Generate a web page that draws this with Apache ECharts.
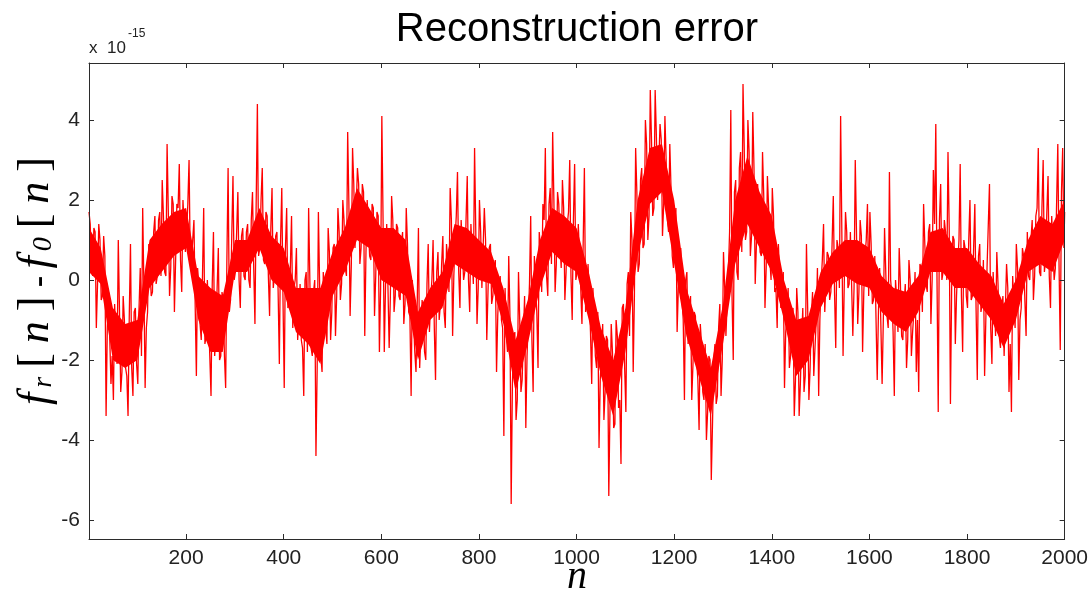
<!DOCTYPE html>
<html>
<head>
<meta charset="utf-8">
<script src="https://cdn.jsdelivr.net/npm/echarts@6/dist/echarts.min.js"></script>
<style>
html,body{margin:0;padding:0;background:#fff;}
#chart{width:1091px;height:594px;}
</style>
</head>
<body>
<div id="chart"></div>
<script>
// Outer samples at n = 1, 6, 11, ... (step 5); inner samples at n = 3.5, 8.5, ...; final sample n = 2000
const nStart = 1;
const nStep = 5;
const nInnerOffset = 2.5;
const nLast = 2000;
// Reconstruction error (units of 1e-15): samples that reach the spikes
const errValues = [
  // n 1-46
  1.7, 0.3, 1.3, -1.2, 1.4, -0.5, 1.1, -3.4, -0.3, -2.6,
  // n 51-96
  -3.0, -0.6, 1.0, -2.8, -0.4, -2.2, -3.4, 0.9, -2.9, -0.7,
  // n 101-146
  -2.6, 0.3, 1.8, -2.7, -0.8, 0.9, -0.3, 1.6, 0.1, 1.7,
  // n 151-196
  2.5, 0.2, 3.4, -0.4, 2.1, -0.8, 1.9, 2.9, -0.3, 2.0,
  // n 201-246
  1.2, 3.0, 0.5, 1.5, -2.4, -0.1, -1.5, 1.8, -1.4, 0.0,
  // n 251-296
  -2.9, 1.2, -1.3, 0.8, -1.9, -0.5, -2.7, 2.8, -0.5, 2.6,
  // n 301-346
  0.2, 2.2, -0.7, 1.3, 0.0, 1.4, -0.2, 2.2, -1.1, 4.4,
  // n 351-396
  0.8, 2.8, 0.4, 1.6, -0.9, 2.3, 0.1, 1.2, -2.1, 2.3,
  // n 401-446
  -2.7, 1.8, -0.6, 1.6, -0.2, 0.8, -1.0, -1.5, -2.9, 0.2,
  // n 451-496
  1.8, -1.7, -0.3, -4.4, 1.7, -1.9, 0.2, -1.2, 1.3, -1.5,
  // n 501-546
  0.8, -1.4, 1.8, -0.5, 2.0, 0.3, 3.7, -0.9, 3.3, 0.8,
  // n 551-596
  2.8, 0.4, 2.4, -1.4, 2.0, 0.6, 1.9, -0.9, 1.7, -1.8,
  // n 601-646
  4.1, -1.8, 1.4, -1.7, 2.1, -0.8, 1.4, -0.4, 0.9, -1.1,
  // n 651-696
  1.8, -0.8, -2.9, -1.0, -2.3, 1.3, -2.2, -0.8, -2.0, 0.9,
  // n 701-746
  -0.5, 1.0, -2.5, 0.7, -0.6, 1.1, -1.2, 0.5, 2.3, -1.4,
  // n 751-796
  1.0, 2.7, -0.7, 1.5, 0.2, 2.6, -0.8, 1.4, 3.3, -1.1,
  // n 801-846
  2.0, -0.2, 1.8, -1.5, 0.8, -0.6, 0.3, -2.3, -0.1, -1.0,
  // n 851-896
  -3.9, -1.4, 0.6, -5.6, -1.5, -3.5, 0.2, -2.8, -1.4, -3.7,
  // n 901-946
  -1.0, 1.6, -2.8, -0.2, -2.2, 0.8, 1.9, 3.3, -0.4, 2.3,
  // n 951-996
  3.7, -0.3, 2.2, 0.9, 2.5, -0.5, 1.4, 3.0, -1.0, 2.9,
  // n 1001-1046
  0.2, 1.4, -1.1, 2.8, -0.6, 0.4, -2.6, -1.0, -2.2, -4.2,
  // n 1051-1096
  -1.8, -3.5, -1.4, -5.4, -1.1, -3.7, -1.0, -3.2, -4.6, -0.6,
  // n 1101-1146
  -3.3, 0.2, 1.7, -2.3, 3.3, 0.2, 2.5, 0.8, 4.0, 1.0,
  // n 1151-1196
  4.75, 1.6, 4.75, 2.0, 3.9, 1.1, 4.1, 1.5, 3.4, 0.6,
  // n 1201-1246
  1.4, -1.3, 0.6, -0.5, -3.0, 0.2, -1.2, -3.0, -0.8, -2.0,
  // n 1251-1296
  -3.75, -1.6, -3.0, -4.0, -1.9, -5.0, -2.0, -3.1, -1.2, -2.9,
  // n 1301-1346
  0.7, -1.4, 0.2, 4.25, -2.0, 2.5, 0.0, 3.2, 4.9, 1.0,
  // n 1351-1396
  4.0, 0.6, 4.2, -0.1, 2.4, 0.7, 3.2, -0.7, 2.6, 0.5,
  // n 1401-1446
  2.3, -0.3, -1.2, 0.9, -0.7, -2.7, -0.9, -2.2, -0.8, -3.4,
  // n 1451-1496
  -0.2, -3.4, -1.5, -2.8, 0.9, -3.0, -0.9, -2.4, -1.0, -2.9,
  // n 1501-1546
  -0.1, 1.4, -0.8, 0.6, -0.3, 2.1, -1.7, 0.8, 4.1, -1.9,
  // n 1551-1596
  1.7, -0.2, 1.2, -1.4, 3.0, -1.1, 1.5, -1.8, 0.6, 1.9,
  // n 1601-1646
  1.7, -0.6, 0.6, -2.5, 0.3, -2.6, 1.3, -0.9, 2.7, -0.4,
  // n 1651-1696
  -2.9, -0.5, 0.8, -1.4, -0.6, -2.2, 0.5, -1.9, -0.8, -2.3,
  // n 1701-1746
  -2.8, 0.3, 1.9, -0.1, 1.2, -1.1, 2.75, 3.9, -3.3, 2.4,
  // n 1751-1796
  0.2, 1.2, 3.2, -3.1, 1.1, -1.6, 0.4, 2.9, -1.8, 0.8,
  // n 1801-1846
  -0.7, 2.0, -0.4, 1.9, -2.5, 0.9, -0.6, -2.4, 0.3, 2.4,
  // n 1851-1896
  -2.1, -0.6, 0.7, -1.4, -0.8, -1.9, 0.4, -2.8, -3.3, -0.6,
  // n 1901-1946
  0.9, -2.5, -0.7, 0.6, -1.4, 0.1, 1.0, -0.5, 1.6, 3.3,
  // n 1951-1996
  0.1, 3.0, 0.5, 2.6, -0.7, 1.6, 0.3, 3.4, -1.75, 3.3
];
const coreValues = [
  1.4, 0.1, 1.2, -0.1, 1.0, -0.4, 0.6, -1.2, -0.3, -1.9,
  -0.6, -2.1, -0.8, -2.3, -1.0, -2.4, -0.9, -2.2, -0.8, -2.1,
  -0.7, -1.9, -0.2, -1.2, 0.9, -0.4, 1.2, -0.1, 1.5, 0.1,
  1.6, 0.1, 1.7, 0.3, 1.9, 0.5, 1.8, 0.5, 2.0, 0.7,
  1.9, 0.4, 1.0, -0.6, 0.3, -1.1, 0.1, -1.6, 0.0, -1.9,
  -0.1, -1.9, -0.2, -2.0, -0.3, -1.9, 0.5, -0.8, 1.1, 0.0,
  1.2, 0.0, 1.1, 0.1, 1.2, 0.0, 1.5, 0.3, 1.9, 0.6,
  2.0, 0.5, 1.7, 0.1, 1.3, -0.2, 1.1, -0.3, 1.0, -0.5,
  0.8, -0.7, 0.3, -1.2, 0.0, -1.5, -0.1, -1.7, 0.0, -1.8,
  0.0, -1.9, 0.0, -2.2, -0.1, -2.3, 0.2, -1.6, 0.7, -0.8,
  0.9, -0.4, 1.2, -0.1, 1.5, 0.1, 1.9, 0.4, 2.4, 0.8,
  2.4, 0.8, 2.2, 0.7, 2.0, 0.5, 1.8, 0.1, 1.6, -0.2,
  1.5, -0.2, 1.4, -0.4, 1.5, -0.4, 1.3, -0.5, 1.2, -0.6,
  0.9, -0.9, 0.0, -1.8, -0.6, -2.2, -0.5, -1.8, -0.1, -1.3,
  0.0, -1.2, 0.2, -1.0, 0.4, -0.8, 0.9, -0.3, 1.5, 0.1,
  1.6, 0.2, 1.5, 0.0, 1.5, 0.0, 1.4, -0.1, 1.2, -0.2,
  1.2, -0.2, 1.0, -0.3, 0.9, -0.4, 0.5, -0.9, 0.1, -1.2,
  -0.2, -1.8, -0.9, -2.6, -1.3, -3.0, -1.0, -2.5, -0.4, -1.9,
  -0.1, -1.5, 0.6, -0.8, 1.2, -0.3, 1.5, 0.1, 1.9, 0.4,
  2.0, 0.4, 1.9, 0.3, 1.8, 0.2, 1.7, 0.1, 1.5, 0.0,
  1.4, -0.2, 0.9, -0.8, 0.4, -1.3, -0.2, -1.9, -0.8, -2.5,
  -1.1, -2.8, -1.5, -3.2, -1.8, -3.6, -1.4, -3.0, -0.7, -2.2,
  -0.1, -1.4, 1.0, -0.4, 2.2, 0.4, 2.8, 0.9, 3.4, 1.6,
  3.5, 1.8, 3.6, 2.0, 3.5, 1.9, 3.0, 1.2, 2.3, 0.3,
  1.8, -0.2, 0.8, -1.0, 0.0, -1.6, -0.4, -2.1, -0.9, -2.5,
  -1.1, -2.8, -1.6, -3.3, -2.0, -3.6, -1.6, -2.9, -0.6, -2.0,
  -0.2, -1.4, 1.2, -0.4, 2.2, 0.2, 2.8, 0.7, 3.3, 1.2,
  3.2, 1.1, 2.8, 0.9, 2.4, 0.6, 2.1, 0.3, 1.8, 0.0,
  1.6, -0.2, 0.9, -0.7, 0.2, -1.3, -0.2, -1.9, -0.7, -2.5,
  -0.8, -2.6, -0.7, -2.4, -0.7, -2.2, -0.3, -1.7, 0.3, -1.0,
  0.5, -0.8, 0.7, -0.5, 0.9, -0.3, 1.0, -0.2, 1.2, -0.1,
  1.2, -0.1, 1.2, -0.2, 1.2, -0.3, 1.1, -0.3, 1.0, -0.4,
  0.9, -0.5, 0.6, -0.8, 0.3, -1.0, 0.2, -1.2, 0.0, -1.3,
  0.0, -1.3, -0.1, -1.5, -0.1, -1.5, 0.0, -1.3, 0.2, -1.0,
  0.4, -0.8, 0.9, -0.3, 1.4, 0.0, 1.4, 0.0, 1.5, 0.0,
  1.5, 0.0, 1.3, -0.2, 1.0, -0.4, 1.0, -0.4, 1.0, -0.4,
  1.0, -0.5, 0.8, -0.7, 0.6, -0.8, 0.5, -1.0, 0.3, -1.2,
  0.2, -1.4, -0.1, -1.7, -0.4, -1.9, -0.2, -1.6, 0.1, -1.2,
  0.3, -1.0, 0.8, -0.5, 1.2, 0.0, 1.5, 0.1, 1.8, 0.2,
  1.8, 0.2, 1.7, 0.1, 1.6, 0.0, 1.9, 0.4, 2.2, 0.8
];
const lastValue = 1.7;
// Solid core of the trace (narrow band where samples overlap), every 25 n from n = 0
const bandStep = 25;
const bandLow = [
  0.2, -0.1, -2.0, -2.2, -2.0, -0.2, 0.2, 0.6, 0.8, -1.0, -1.8, -1.8, 0.2, 0.2, 0.8, 0.0, -0.3,
  -1.3, -1.6, -2.1, -0.4, 0.2, 1.0, 0.8, 0.0, -0.2, -0.4, -2.0, -1.0, -0.7, 0.4, 0.2, 0.0,
  -0.1, -1.1, -2.8, -1.6, -0.2, 0.7, 0.4, 0.2, -1.0, -2.4, -3.4, -1.8, 0.6, 1.9, 2.2, 0.4,
  -1.4, -2.4, -3.4, -1.6, 0.4, 1.4, 0.8, 0.2, -1.0, -2.4, -2.0, -0.7, -0.1, 0.1, -0.1, -0.2,
  -0.8, -1.1, -1.3, -0.8, 0.2, 0.2, -0.2, -0.2, -0.6, -1.0, -1.7, -1.0, 0.2, 0.4, 0.2, 1.0
];
const bandHigh = [
  1.3, 0.8, -0.7, -1.1, -1.0, 1.0, 1.4, 1.7, 1.8, 0.1, -0.2, -0.4, 1.0, 1.0, 1.8, 1.1, 0.8,
  -0.2, -0.2, -0.2, 0.7, 1.3, 2.3, 1.8, 1.3, 1.3, 1.0, -0.8, -0.2, 0.2, 1.4, 1.3, 1.0,
  0.7, -0.2, -1.5, -0.5, 1.0, 1.8, 1.6, 1.3, 0.2, -1.2, -2.0, -0.7, 2.0, 3.3, 3.4, 2.0,
  -0.2, -1.2, -2.2, -0.6, 2.0, 3.1, 2.2, 1.6, 0.0, -1.0, -0.9, 0.2, 0.7, 1.0, 1.0, 0.8,
  0.1, -0.2, -0.3, 0.1, 1.2, 1.3, 0.8, 0.8, 0.4, 0.1, -0.6, 0.0, 1.0, 1.6, 1.4, 2.0
];
const xTicks = [200, 400, 600, 800, 1000, 1200, 1400, 1600, 1800, 2000];
const yTicks = [-6, -4, -2, 0, 2, 4];
const titleText = 'Reconstruction error';

const seriesData = [];
errValues.forEach(function (v, i) {
  seriesData.push([nStart + i * nStep, v]);
  seriesData.push([nStart + i * nStep + nInnerOffset, coreValues[i]]);
});
seriesData.push([nLast, lastValue]);
const bandN = bandLow.map(function (v, i) { return Math.max(1, i * bandStep); });

const axisColor = '#2b2b2b';
const labelFamily = '"Liberation Sans", Arial, sans-serif';

const chart = echarts.init(document.getElementById('chart'), null, {renderer: 'canvas'});
function xAxisDef(pos, showLabel) {
  return {
    type: 'value', min: 1, max: 2000, position: pos, z: 10,
    axisLine: {show: true, onZero: false, lineStyle: {color: axisColor, width: 1}},
    axisTick: {show: true, inside: true, length: 5, customValues: xTicks, lineStyle: {color: axisColor}},
    axisLabel: {show: showLabel, customValues: xTicks, margin: 9, fontFamily: labelFamily, fontSize: 21, color: '#222',
      formatter: function (v) { return String(v); }},
    splitLine: {show: false}
  };
}
function yAxisDef(pos, showLabel) {
  return {
    type: 'value', min: -6.475, max: 5.425, position: pos, z: 10,
    axisLine: {show: true, onZero: false, lineStyle: {color: axisColor, width: 1}},
    axisTick: {show: true, inside: true, length: 5, customValues: yTicks, lineStyle: {color: axisColor}},
    axisLabel: {show: showLabel, customValues: yTicks, margin: 9, fontFamily: labelFamily, fontSize: 21, color: '#222',
      formatter: function (v) { return String(v); }},
    splitLine: {show: false}
  };
}
chart.setOption({
  animation: false,
  backgroundColor: '#ffffff',
  grid: {left: 89, right: 25, top: 63, bottom: 55, containLabel: false},
  xAxis: [xAxisDef('bottom', true), xAxisDef('top', false)],
  yAxis: [yAxisDef('left', true), yAxisDef('right', false)],
  series: [
    {
      type: 'custom', xAxisIndex: 0, yAxisIndex: 0, silent: true, clip: true, z: 1,
      data: [[bandN[0], bandLow[0]]],
      renderItem: function (params, api) {
        const pts = [];
        for (let i = 0; i < bandN.length; i++) pts.push(api.coord([bandN[i], bandHigh[i]]));
        for (let i = bandN.length - 1; i >= 0; i--) pts.push(api.coord([bandN[i], bandLow[i]]));
        return {type: 'polygon', shape: {points: pts}, style: {fill: '#ff0000', stroke: null}};
      }
    },
    {
      type: 'line', xAxisIndex: 0, yAxisIndex: 0,
      data: seriesData, showSymbol: false, symbol: 'none', sampling: null,
      lineStyle: {color: '#ff0000', width: 1.3},
      z: 2
    }
  ],
  graphic: [
    {
      type: 'text', x: 577, y: 30,
      style: {text: titleText, x: 0, y: 0, align: 'center', verticalAlign: 'middle',
        font: '40px "Liberation Sans", Arial, sans-serif', fill: '#000'}
    },
    {
      type: 'text', x: 89, y: 48,
      style: {text: 'x', x: 0, y: 0, align: 'left', verticalAlign: 'middle',
        font: '17px "Liberation Sans", Arial, sans-serif', fill: '#222'}
    },
    {
      type: 'text', x: 107, y: 48,
      style: {text: '10', x: 0, y: 0, align: 'left', verticalAlign: 'middle',
        font: '17px "Liberation Sans", Arial, sans-serif', fill: '#222'}
    },
    {
      type: 'text', x: 128, y: 34,
      style: {text: '-15', x: 0, y: 0, align: 'left', verticalAlign: 'middle',
        font: '12px "Liberation Sans", Arial, sans-serif', fill: '#222'}
    },
    {
      type: 'text', x: 34, y: 280, rotation: Math.PI / 2,
      style: {
        text: '{i|f}{s|r}{u|[}{i|n}{u|]}{h|-}{i|f}{s|0}{u|[}{i|n}{u|]}',
        x: 0, y: 0, align: 'center', verticalAlign: 'middle',
        rich: {
          i: {fontFamily: 'Liberation Serif, serif', fontStyle: 'italic', fontSize: 44, fill: '#000', lineHeight: 48, verticalAlign: 'bottom', padding: [0, 4, 0, 4]},
          s: {fontFamily: 'Liberation Serif, serif', fontStyle: 'italic', fontSize: 28, fill: '#000', lineHeight: 30, verticalAlign: 'bottom', padding: [0, 3, 0, 1]},
          u: {fontFamily: 'Liberation Serif, serif', fontSize: 44, fill: '#000', lineHeight: 48, verticalAlign: 'bottom', padding: [0, 6, 0, 6]},
          h: {fontFamily: 'Liberation Sans, sans-serif', fontSize: 36, fill: '#000', lineHeight: 48, verticalAlign: 'bottom', padding: [0, 3, 0, 3]}
        }
      }
    },
    {
      type: 'text', x: 577, y: 577,
      style: {text: 'n', x: 0, y: 0, align: 'center', verticalAlign: 'middle',
        font: 'italic 40px "Liberation Serif", serif', fill: '#000'}
    }
  ]
});
</script>
</body>
</html>
